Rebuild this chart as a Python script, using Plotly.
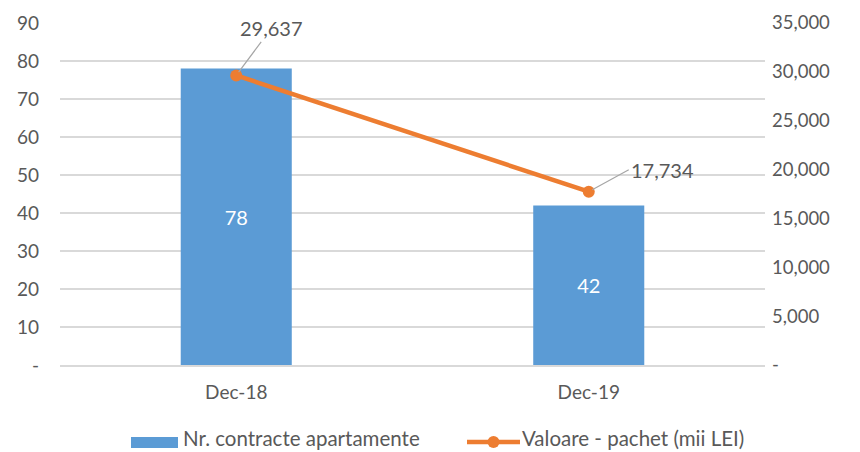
import plotly.graph_objects as go

categories = ["Dec-18", "Dec-19"]
contracts = [78, 42]
values = [29637, 17734]
left_ticks = [0, 10, 20, 30, 40, 50, 60, 70, 80, 90]
right_ticks = [0, 5000, 10000, 15000, 20000, 25000, 30000, 35000]
bar_name = "Nr. contracte apartamente"
line_name = "Valoare - pachet (mii LEI)"

FONT = "Lato"
GREY = "#595959"
BLUE = "#5b9bd5"
ORANGE = "#ed7d31"

fig = go.Figure()
fig.add_trace(go.Bar(
    x=categories, y=contracts, name=bar_name,
    marker=dict(color=BLUE, line=dict(width=0)),
    text=[str(v) for v in contracts], textposition="inside",
    insidetextanchor="middle", textfont=dict(color="white", size=20, family=FONT),
    yaxis="y", hoverinfo="skip",
))
fig.add_trace(go.Scatter(
    x=categories, y=values, name=line_name,
    mode="lines+markers", line=dict(color=ORANGE, width=4.5),
    marker=dict(size=12, color=ORANGE), yaxis="y2", hoverinfo="skip",
))

offsets = [(35, -47, "center"), (40, -22, "left")]
for c, v, (ax, ay, anc) in zip(categories, values, offsets):
    fig.add_annotation(
        x=c, y=v, xref="x", yref="y2", text=f"{v:,}",
        showarrow=True, arrowhead=0, arrowwidth=1.2, arrowcolor="#a6a6a6",
        ax=ax, ay=ay, standoff=4,
        font=dict(size=20, color=GREY, family=FONT), xanchor=anc,
    )

# custom legend (bottom)
LW, LT = 705.0, 342.0
def px(x):
    return (x - 60) / LW
def py(y):
    return (365 - y) / LT
ly = py(442)
fig.add_shape(type="rect", xref="paper", yref="paper",
              x0=px(131), x1=px(178), y0=py(437), y1=py(448),
              fillcolor=BLUE, line=dict(width=0))
fig.add_shape(type="line", xref="paper", yref="paper",
              x0=px(467), x1=px(520), y0=ly, y1=ly,
              line=dict(color=ORANGE, width=4.5))
fig.add_shape(type="circle", xref="paper", yref="paper",
              xsizemode="pixel", ysizemode="pixel",
              xanchor=px(493.5), yanchor=ly, x0=-6, x1=6, y0=-6, y1=6,
              fillcolor=ORANGE, line=dict(width=0))
ty = py(438)
fig.add_annotation(x=px(181), y=ty, xref="paper", yref="paper", text=bar_name,
                   showarrow=False, xanchor="left", yanchor="middle",
                   font=dict(size=20.5, color=GREY, family=FONT))
fig.add_annotation(x=px(520), y=ty, xref="paper", yref="paper", text=line_name,
                   showarrow=False, xanchor="left", yanchor="middle",
                   font=dict(size=20.5, color=GREY, family=FONT))

fig.update_layout(
    width=860, height=452,
    margin=dict(l=60, r=95, t=23, b=87, autoexpand=False),
    paper_bgcolor="white", plot_bgcolor="white",
    font=dict(family=FONT, size=19, color=GREY),
    bargap=0.685,
    showlegend=False,
    hovermode=False,
    xaxis=dict(showgrid=False, showline=True, linecolor="#d9d9d9", linewidth=1.5,
               ticks="", tickfont=dict(size=19, color=GREY), ticklabelstandoff=10,
               automargin=False),
    yaxis=dict(range=[0, 90], tickvals=left_ticks,
               ticktext=["-" if t == 0 else str(t) for t in left_ticks],
               showgrid=True, gridcolor="#d9d9d9", gridwidth=1.5, zeroline=False,
               showline=False, ticks="", ticklabelstandoff=20, automargin=False,
               tickfont=dict(size=19, color=GREY)),
    yaxis2=dict(range=[0, 35000], tickvals=right_ticks,
                ticktext=["-" if t == 0 else f"{t:,}" for t in right_ticks],
                overlaying="y", side="right", showgrid=False, zeroline=False,
                showline=False, ticks="", ticklabelstandoff=6, automargin=False,
                tickfont=dict(size=18.5, color=GREY)),
)

fig.write_html(
    "out.html",
    config={"displayModeBar": False, "staticPlot": True},
    post_script="document.body.style.margin='0';document.body.style.overflow='hidden';",
)
